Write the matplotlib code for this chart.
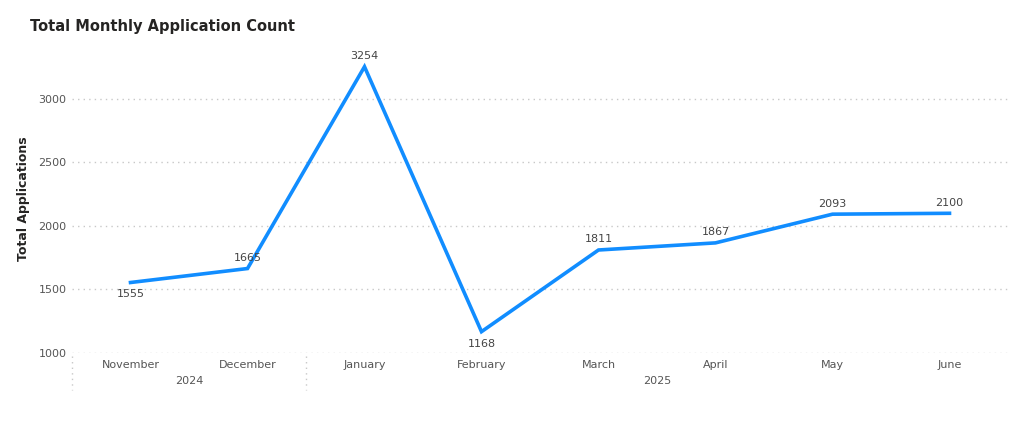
import matplotlib
matplotlib.use("Agg")
import matplotlib.pyplot as plt

months = ["November", "December", "January", "February", "March", "April", "May", "June"]
values = [1555, 1665, 3254, 1168, 1811, 1867, 2093, 2100]
label_below = [True, False, False, True, False, False, False, False]
years = ["2024", "2025"]
year_spans = [(0, 1), (2, 7)]

fig = plt.figure(figsize=(10.22, 4.22), dpi=100)
ax = fig.add_axes([72/1022, 69/422, 936/1022, 308/422])
x = list(range(len(months)))
ax.plot(x, values, color="#118DFF", lw=2.6, solid_joinstyle="miter")
for xi, v, below in zip(x, values, label_below):
    ax.annotate(str(v), (xi, v), xytext=(0, -5 if below else 4), textcoords="offset points",
                ha="center", va="top" if below else "bottom", fontsize=8, color="#444444")
ax.set_xlim(-0.5, 7.5)
ax.set_ylim(1000, 3425)
ax.set_yticks([1000, 1500, 2000, 2500, 3000])
ax.set_xticks(x)
ax.set_xticklabels(months, fontsize=8, color="#555555")
ax.tick_params(axis="both", length=0, labelsize=8, labelcolor="#555555")
ax.tick_params(axis="x", pad=5)
ax.tick_params(axis="y", pad=4)
ax.grid(axis="y", ls=(0, (1, 3)), color="#C8C8C8", lw=1)
for s in ax.spines.values():
    s.set_visible(False)
ax.set_ylabel("Total Applications", fontsize=9, fontweight="bold", color="#252423", labelpad=6)

for yr, (a, b) in zip(years, year_spans):
    ax.text((a + b) / 2, -0.075, yr, transform=ax.get_xaxis_transform(), ha="center", va="top",
            fontsize=8, color="#555555")
for xb in [-0.5, 1.5]:
    ax.plot([xb, xb], [-0.01, -0.12], transform=ax.get_xaxis_transform(), clip_on=False,
            color="#C8C8C8", ls=(0, (1, 3)), lw=1)

fig.text(30/1022, 1 - 27/422, "Total Monthly Application Count", fontsize=10.5, fontweight="semibold",
         color="#252423", va="center", ha="left")
fig.savefig("out.png", dpi=100)
